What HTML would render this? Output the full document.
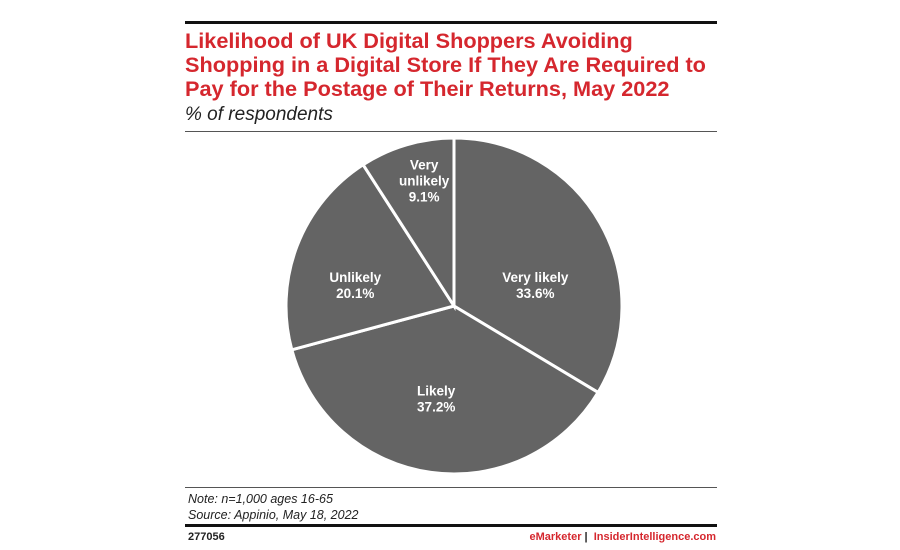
<!DOCTYPE html>
<html><head><meta charset="utf-8"><style>
body{margin:0;width:900px;height:550px;background:#fff;font-family:"Liberation Sans",sans-serif;position:relative;overflow:hidden}
.a{position:absolute}
</style></head><body>
<div class="a" style="left:185px;top:21px;width:532px;height:3px;background:#111"></div>
<div class="a" style="left:185px;top:29px;width:545px;color:#d5272e;font-weight:bold;font-size:21.7px;line-height:24px">Likelihood of UK Digital Shoppers Avoiding Shopping in a Digital Store If They Are Required to Pay for the Postage of Their Returns, May 2022</div>
<div class="a" style="left:185px;top:104px;font-style:italic;font-size:19px;color:#222">% of respondents</div>
<div class="a" style="left:185px;top:131px;width:532px;height:1px;background:#555"></div>
<svg class="a" style="left:0;top:0" width="900" height="550" id="pie"></svg>
<div class="a" style="left:185px;top:487px;width:532px;height:1px;background:#555"></div>
<div class="a" style="left:188px;top:491px;font-style:italic;font-size:12.5px;line-height:16px;color:#222">Note: n=1,000 ages 16-65<br>Source: Appinio, May 18, 2022</div>
<div class="a" style="left:185px;top:524px;width:532px;height:3px;background:#111"></div>
<div class="a" style="left:188px;top:531px;font-weight:bold;font-size:11px;color:#222">277056</div>
<div class="a" style="right:184px;top:531px;font-weight:bold;font-size:11px;color:#d5272e">eMarketer <span style="color:#222">|</span>&nbsp; InsiderIntelligence.com</div>
<script>
const categories=["Very likely","Likely","Unlikely","Very unlikely"];
const values=[33.6,37.2,20.1,9.1];
const labels=["33.6%","37.2%","20.1%","9.1%"];
const svg=document.getElementById('pie'),NS="http://www.w3.org/2000/svg";
const cx=454,cy=306,r=168;
const labelR=[84,94,101,129];
const labelAngOff=[15,3,-9,3];
const total=values.reduce((a,b)=>a+b,0);
function pt(a,rr){return [cx+rr*Math.sin(a),cy-rr*Math.cos(a)];}
let acc=0;
values.forEach((v,i)=>{
 const a0=acc/total*2*Math.PI;acc+=v;const a1=acc/total*2*Math.PI;
 const p0=pt(a0,r),p1=pt(a1,r);
 const path=document.createElementNS(NS,'path');
 path.setAttribute('d',`M${cx},${cy}L${p0[0]},${p0[1]}A${r},${r} 0 ${a1-a0>Math.PI?1:0} 1 ${p1[0]},${p1[1]}Z`);
 path.setAttribute('fill','#646464');path.setAttribute('stroke','#fff');path.setAttribute('stroke-width','3');
 
 
 svg.appendChild(path);
});
acc=0;
values.forEach((v,i)=>{
 const a0=acc/total*2*Math.PI;acc+=v;const a1=acc/total*2*Math.PI;
 const m=(a0+a1)/2+labelAngOff[i]*Math.PI/180;const p=pt(m,labelR[i]);
 const t=document.createElementNS(NS,'text');
 t.setAttribute('text-anchor','middle');t.setAttribute('fill','#fff');t.setAttribute('font-weight','bold');t.setAttribute('font-size','13.5');
 
 
 const lines=(categories[i]==="Very unlikely"?["Very","unlikely"]:[categories[i]]).concat([labels[i]]);
 const y0=p[1]-(lines.length-1)*8+5;
 lines.forEach((l,j)=>{const s=document.createElementNS(NS,'tspan');s.setAttribute('x',p[0]);s.setAttribute('y',y0+j*16);s.textContent=l;t.appendChild(s);});
 svg.appendChild(t);
});
</script>
</body></html>
